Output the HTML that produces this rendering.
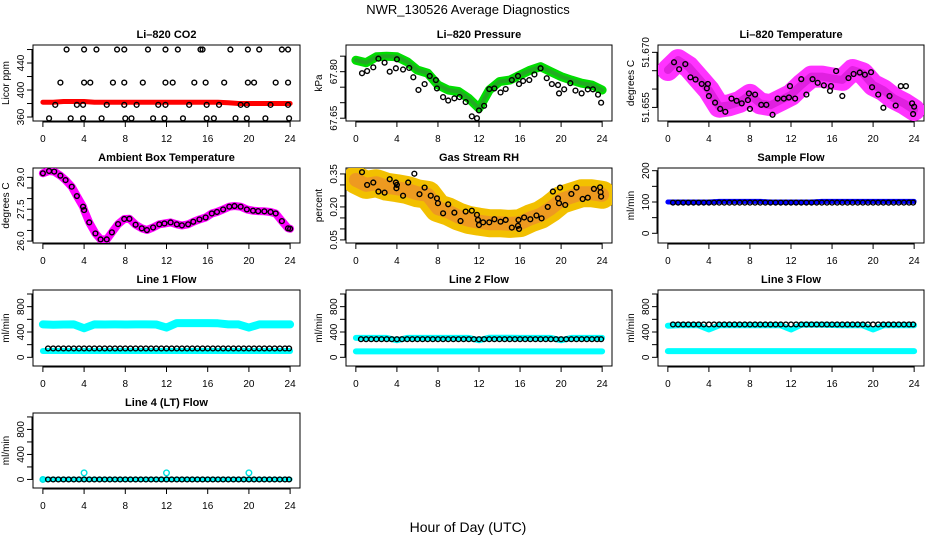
<!DOCTYPE html>
<html><head><meta charset="utf-8">
<style>
html,body{margin:0;padding:0;background:#fff;}
svg{display:block;font-family:"Liberation Sans",sans-serif;}
</style></head>
<body>
<svg id="chart" width="936" height="540" viewBox="0 0 936 540" xmlns="http://www.w3.org/2000/svg">
<rect x="0" y="0" width="936" height="540" fill="#fff"/>
<text x="468" y="14" text-anchor="middle" font-size="13">NWR_130526  Average Diagnostics</text>
<text x="468" y="532" text-anchor="middle" font-size="14">Hour of Day (UTC)</text>
</svg>
<script>
const X_TICKS = [0,4,8,12,16,20,24];
const HOURS24 = [0,1,2,3,4,5,6,7,8,9,10,11,12,13,14,15,16,17,18,19,20,21,22,23,24];

// CO2
const CO2_BAND = [382,382,383,383,383,382,382,382,382,382,382,382,382,382,382,382,382,382,381,380,380,380,380,380,380];
const CO2_H = [2.3,4.0,5.2,7.2,7.9,10.2,11.9,13.1,15.3,15.5,18.2,19.9,21.0,23.2,23.8,
  1.7,4.0,4.6,6.8,7.9,9.7,11.9,12.6,14.7,15.8,17.6,19.9,20.5,22.6,23.8,
  1.2,3.3,3.9,6.2,7.9,9.1,11.2,11.9,14.2,15.9,17.1,19.2,19.8,22.1,23.8,
  0.6,2.7,3.9,5.7,8.0,8.6,10.7,11.8,13.6,15.9,16.6,18.7,19.8,21.6,23.9];
const CO2_V = [460,460,460,460,460,460,460,460,460,460,460,460,460,460,460,
  411,411,411,411,411,411,411,411,411,411,411,411,411,411,411,
  378,378,378,378,378,378,378,378,378,378,378,378,378,378,378,
  358,358,358,358,358,358,358,358,358,358,358,358,358,358,358];

// Pressure
const PRES_BAND = [67.837,67.829,67.848,67.850,67.848,67.832,67.805,67.795,67.757,67.741,67.736,67.714,67.682,67.741,67.768,67.773,67.789,67.805,67.816,67.800,67.784,67.773,67.763,67.757,67.741];
const PRES_H = [0.6,1.1,1.7,2.2,2.8,3.3,3.9,4.0,4.6,5.2,5.6,6.1,6.7,7.2,7.8,7.9,8.5,9.0,9.6,10.1,10.7,11.3,11.8,12.0,12.5,13.0,13.5,14.1,14.6,15.2,15.8,15.9,16.3,16.9,17.4,18.0,18.6,19.1,19.7,19.8,20.3,20.9,21.4,22.0,22.6,23.1,23.6,23.9];
const PRES_V = [67.795,67.802,67.814,67.842,67.829,67.800,67.811,67.840,67.807,67.812,67.782,67.741,67.760,67.786,67.773,67.746,67.718,67.707,67.714,67.718,67.702,67.656,67.650,67.675,67.690,67.744,67.746,67.733,67.744,67.773,67.786,67.760,67.770,67.773,67.791,67.811,67.779,67.760,67.757,67.730,67.743,67.763,67.739,67.730,67.743,67.743,67.726,67.700];

// Li-820 temperature
const TEMP_BAND = [51.6652,51.6679,51.6661,51.6629,51.6597,51.6552,51.6556,51.6565,51.6584,51.6561,51.6556,51.6570,51.6584,51.6611,51.6634,51.6634,51.6629,51.6625,51.6652,51.6643,51.6611,51.6597,51.6575,51.6561,51.6543];
const TEMP_H = [0.6,1.1,1.7,2.2,2.7,3.3,3.8,3.9,4.0,4.6,5.1,5.6,6.2,6.7,7.2,7.8,7.9,8.0,8.5,9.1,9.6,10.2,10.7,11.3,11.8,11.9,12.4,13.0,13.5,14.1,14.6,15.2,15.8,15.9,16.4,17.0,17.6,18.1,18.7,19.2,19.8,19.9,20.5,21.0,21.6,22.2,22.7,23.2,23.8,23.9,24.0];
const TEMP_V = [51.6673,51.6654,51.6668,51.6632,51.6626,51.6614,51.6602,51.6614,51.6581,51.6563,51.6546,51.6538,51.6574,51.6568,51.6561,51.6570,51.6588,51.6546,51.6585,51.6557,51.6557,51.6530,51.6574,51.6574,51.6577,51.6608,51.6574,51.6627,51.6585,51.6627,51.6617,51.6610,51.6595,51.6608,51.6649,51.6581,51.6630,51.6641,51.6645,51.6639,51.6646,51.6605,51.6585,51.6549,51.6581,51.6555,51.6608,51.6608,51.6561,51.6532,51.6552];

// Ambient box temperature
const AMB_H = [0,0.6,1.1,1.7,2.2,2.8,3.3,3.9,4.0,4.5,5.1,5.6,6.2,6.7,7.3,7.9,8.4,9.0,9.6,10.1,10.7,11.3,11.8,12.4,13.0,13.5,14.1,14.6,15.2,15.8,16.4,16.9,17.5,18.1,18.6,19.2,19.8,20.4,20.9,21.5,22.1,22.6,23.2,23.8,24.0];
const AMB_V = [29.19,29.30,29.27,29.08,28.87,28.56,28.12,27.62,27.46,26.88,26.36,26.08,26.08,26.41,26.80,27.04,27.05,26.77,26.60,26.52,26.64,26.79,26.83,26.88,26.79,26.74,26.79,26.91,27.02,27.11,27.30,27.37,27.49,27.62,27.65,27.62,27.49,27.43,27.41,27.40,27.37,27.30,26.94,26.60,26.58];

// Gas stream RH
const RH_BAND = [0.323,0.300,0.308,0.292,0.285,0.277,0.262,0.255,0.194,0.179,0.156,0.141,0.133,0.126,0.126,0.123,0.126,0.148,0.164,0.194,0.232,0.247,0.262,0.262,0.255];
const RH_H = [0.6,1.1,1.7,2.2,2.8,3.3,3.9,3.95,4.0,4.6,5.1,5.7,6.2,6.7,7.3,7.9,8.0,8.5,9.0,9.6,10.2,10.7,11.3,11.8,11.9,12.0,12.4,13.0,13.5,14.1,14.6,15.2,15.8,15.85,15.9,16.4,17.0,17.6,18.1,18.7,19.2,19.7,19.8,19.9,20.4,21.0,21.5,22.1,22.6,23.2,23.8,23.85,23.9];
const RH_V = [0.358,0.300,0.311,0.270,0.265,0.326,0.311,0.285,0.300,0.251,0.311,0.351,0.258,0.288,0.251,0.239,0.217,0.171,0.212,0.174,0.136,0.179,0.183,0.164,0.141,0.118,0.130,0.130,0.144,0.133,0.141,0.106,0.114,0.141,0.100,0.152,0.144,0.161,0.148,0.200,0.270,0.239,0.217,0.288,0.209,0.259,0.288,0.236,0.242,0.282,0.289,0.267,0.247];

// Flows
const FLOW_H = [0.5,1,1.5,2,2.5,3,3.5,4,4.5,5,5.5,6,6.5,7,7.5,8,8.5,9,9.5,10,10.5,11,11.5,12,12.5,13,13.5,14,14.5,15,15.5,16,16.5,17,17.5,18,18.5,19,19.5,20,20.5,21,21.5,22,22.5,23,23.5,23.9];
const SAMPLE_BAND = [100,100,100,100,100,102,102,102,102,102,100,100,100,100,100,102,102,102,102,102,102,102,102,102,102];
const SAMPLE_V = [98,98,98,98,98,98,98,98,98,98,98,98,98,98,98,98,98,98,98,98,98,98,98,98,98,98,98,98,98,98,98,98,98,98,98,98,98,98,98,98,98,98,98,98,98,98,98,98];
const L1_HIGH = [520,515,518,520,460,520,518,520,518,520,520,518,470,540,540,540,540,538,520,520,470,520,520,520,520];
const L1_LOW = [100,100,100,100,100,100,100,100,100,100,100,100,100,100,100,100,100,100,100,100,100,100,100,100,100];
const L1_V = [140,140,140,140,140,140,140,140,140,140,140,140,140,140,140,140,140,140,140,140,140,140,140,140,140,140,140,140,140,140,140,140,140,140,140,140,140,140,140,140,140,140,140,140,140,140,140,140];
const L2_HIGH = [306,306,306,306,270,306,306,306,306,306,306,306,270,310,310,310,306,306,306,306,270,306,306,306,306];
const L2_LOW = [94,94,94,94,94,94,94,94,94,94,94,94,94,94,94,94,94,94,94,94,94,94,94,94,94];
const L2_V = [286,286,286,286,286,286,286,286,286,286,286,286,286,286,286,286,286,286,286,286,286,286,286,286,286,286,286,286,286,286,286,286,286,286,286,286,286,286,286,286,286,286,286,286,286,286,286,286];
const L3_HIGH = [500,505,505,505,440,505,505,505,505,505,505,505,440,515,515,515,510,505,505,505,440,505,505,505,505];
const L3_LOW = [99,99,99,99,99,99,99,99,99,99,99,99,99,99,99,99,99,99,99,99,99,99,99,99,99];
const L3_V = [519,519,519,519,519,519,519,519,519,519,519,519,519,519,519,519,519,519,519,519,519,519,519,519,519,519,519,519,519,519,519,519,519,519,519,519,519,519,519,519,519,519,519,519,519,519,519,519];
const L4_CYAN_H = [0,4,12,20];
const L4_CYAN_V = [0,105,105,105];
const L4_V = [0,0,0,0,0,0,0,0,0,0,0,0,0,0,0,0,0,0,0,0,0,0,0,0,0,0,0,0,0,0,0,0,0,0,0,0,0,0,0,0,0,0,0,0,0,0,0,0];

const NS = "http://www.w3.org/2000/svg";
const svg = document.getElementById("chart");
function mk(tag, attrs, parent){
  const e = document.createElementNS(NS, tag);
  for (const k in attrs) e.setAttribute(k, attrs[k]);
  (parent||svg).appendChild(e);
  return e;
}

function panel(key, title, ylab, x0, y0, x1, y1, ymin, ymax, ticks, labels){
  const g = mk("g", {});
  
  
  const xr0 = 0 - 0.04*24/1.0, xr1 = 24 + 0.04*24;
  const sx = h => x0 + (h - xr0) / (xr1 - xr0) * (x1 - x0);
  const sy = v => y1 - (v - ymin) / (ymax - ymin) * (y1 - y0);
  const box = mk("rect", {x:x0, y:y0, width:x1-x0, height:y1-y0, fill:"none", stroke:"#000", "stroke-width":1}, g);
  
  
  const t = mk("text", {x:(x0+x1)/2, y:y0-7, "text-anchor":"middle", "font-size":11, "font-weight":"bold"}, g);
  t.textContent = title;
  
  
  const yl = mk("text", {x:0, y:0, "text-anchor":"middle", "font-size":10, transform:`translate(${x0-24},${(y0+y1)/2}) rotate(-90)`}, g);
  yl.textContent = ylab;
  
  
  // x axis
  const xa = mk("g", {}, g);
  
  
  mk("line", {x1:sx(0), x2:sx(24), y1:y1+1, y2:y1+1, stroke:"#000"}, xa);
  X_TICKS.forEach(h => {
    mk("line", {x1:sx(h), x2:sx(h), y1:y1, y2:y1+6, stroke:"#000"}, xa);
    const tl = mk("text", {x:sx(h), y:y1+21, "text-anchor":"middle", "font-size":10}, xa);
    tl.textContent = h;
    
    
  });
  // y axis
  const ya = mk("g", {}, g);
  
  
  mk("line", {x1:x0-1, x2:x0-1, y1:sy(ticks[0]), y2:sy(ticks[ticks.length-1]), stroke:"#000"}, ya);
  ticks.forEach(v => mk("line", {x1:x0-6, x2:x0, y1:sy(v), y2:sy(v), stroke:"#000"}, ya));
  labels.forEach(v => {
    const tl = mk("text", {x:0, y:0, "text-anchor":"middle", "font-size":10, transform:`translate(${x0-9},${sy(v)}) rotate(-90)`}, ya);
    tl.textContent = v;
    
    
  });
  const clip = "clip-" + key;
  const cp = mk("clipPath", {id:clip}, g);
  mk("rect", {x:x0, y:y0, width:x1-x0, height:y1-y0}, cp);
  const d = mk("g", {"clip-path":`url(#${clip})`}, g);
  
  
  return {sx, sy, g: d};
}

function band(p, hs, vs, color, w, name){
  const pts = hs.map((h,i) => p.sx(h).toFixed(1) + "," + p.sy(vs[i]).toFixed(1)).join(" ");
  const l = mk("polyline", {points:pts, fill:"none", stroke:color, "stroke-width":w, "stroke-linejoin":"round", "stroke-linecap":"round"}, p.g);
  
  
}
function dots(p, hs, vs, color, name, r){
  hs.forEach((h,i) => {
    const c = mk("circle", {cx:p.sx(h), cy:p.sy(vs[i]), r:r||2.4, fill:"none", stroke:color, "stroke-width":1.4}, p.g);
    
    
  });
}

// Row 1
let p = panel("co2", "Li\u2013820 CO2", "Licor ppm", 33, 45, 300, 121, 354.1, 466.7, [360,380,400,420,440,460], [360,400,440]);
band(p, HOURS24, CO2_BAND, "#ff0000", 5, "co2-band");
dots(p, CO2_H, CO2_V, "#000", "co2-point");

p = panel("pressure", "Li\u2013820 Pressure", "kPa", 346, 45, 612, 121, 67.641, 67.886, [67.65,67.70,67.75,67.80,67.85], ["67.65","67.80"]);
band(p, HOURS24, PRES_BAND, "#00dd00", 9, "pressure-band");
band(p, HOURS24, PRES_BAND, "#22aa22", 4, "pressure-band-core");
dots(p, PRES_H, PRES_V, "#000", "pressure-point");

p = panel("temperature", "Li\u2013820 Temperature", "degrees C", 658, 45, 924, 121, 51.6513, 51.672, [51.655,51.660,51.665,51.670], ["51.655","51.670"]);
band(p, HOURS24, TEMP_BAND, "#ff33ff", 22, "temperature-band");
band(p, HOURS24, TEMP_BAND, "#e020e0", 8, "temperature-band-core");
dots(p, TEMP_H, TEMP_V, "#000", "temperature-point");

// Row 2
p = panel("ambient", "Ambient Box Temperature", "degrees C", 33, 168, 300, 243, 25.91, 29.44, [26.0,26.5,27.0,27.5,28.0,28.5,29.0], ["26.0","27.5","29.0"]);
band(p, AMB_H, AMB_V, "#ff00ff", 8, "ambient-band");
dots(p, AMB_H, AMB_V, "#000", "ambient-point");

p = panel("rh", "Gas Stream RH", "percent", 346, 168, 612, 243, 0.036, 0.377, [0.05,0.10,0.15,0.20,0.25,0.30,0.35], ["0.05","0.20","0.35"]);
band(p, HOURS24, RH_BAND, "#f2c000", 28, "rh-band");
band(p, HOURS24, RH_BAND, "#ee9a20", 14, "rh-band-core");
dots(p, RH_H, RH_V, "#000", "rh-point");

p = panel("sample-flow", "Sample Flow", "ml/min", 658, 168, 924, 243, -31, 208.6, [0,50,100,150,200], [0,100,200]);
band(p, HOURS24, SAMPLE_BAND, "#0000ff", 5, "sample-flow-band");
dots(p, FLOW_H, SAMPLE_V, "#000", "sample-flow-point");

// Row 3
const FT = [0,200,400,600,800,1000], FL = [0,400,800];
p = panel("line1", "Line 1 Flow", "ml/min", 33, 290, 300, 366, -137, 1063, FT, FL);
band(p, HOURS24, L1_HIGH, "#00ffff", 8, "line1-high-band");
band(p, HOURS24, L1_LOW, "#00ffff", 6, "line1-low-band");
dots(p, FLOW_H, L1_V, "#000", "line1-point");

p = panel("line2", "Line 2 Flow", "ml/min", 346, 290, 612, 366, -137, 1063, FT, FL);
band(p, HOURS24, L2_LOW, "#00ffff", 6, "line2-low-band");
band(p, HOURS24, L2_HIGH, "#00ffff", 6, "line2-high-band");
dots(p, FLOW_H, L2_V, "#000", "line2-point");

p = panel("line3", "Line 3 Flow", "ml/min", 658, 290, 924, 366, -137, 1063, FT, FL);
band(p, HOURS24, L3_LOW, "#00ffff", 6, "line3-low-band");
band(p, HOURS24, L3_HIGH, "#00ffff", 6, "line3-high-band");
dots(p, FLOW_H, L3_V, "#000", "line3-point");

// Row 4
p = panel("line4", "Line 4 (LT) Flow", "ml/min", 33, 413, 300, 488, -137, 1063, FT, FL);
band(p, [0,24], [0,0], "#00ffff", 5, "line4-band");
dots(p, L4_CYAN_H, L4_CYAN_V, "#00e0e0", "line4-cyan-point", 2.8);
dots(p, FLOW_H, L4_V, "#000", "line4-point");
</script>
</body></html>
